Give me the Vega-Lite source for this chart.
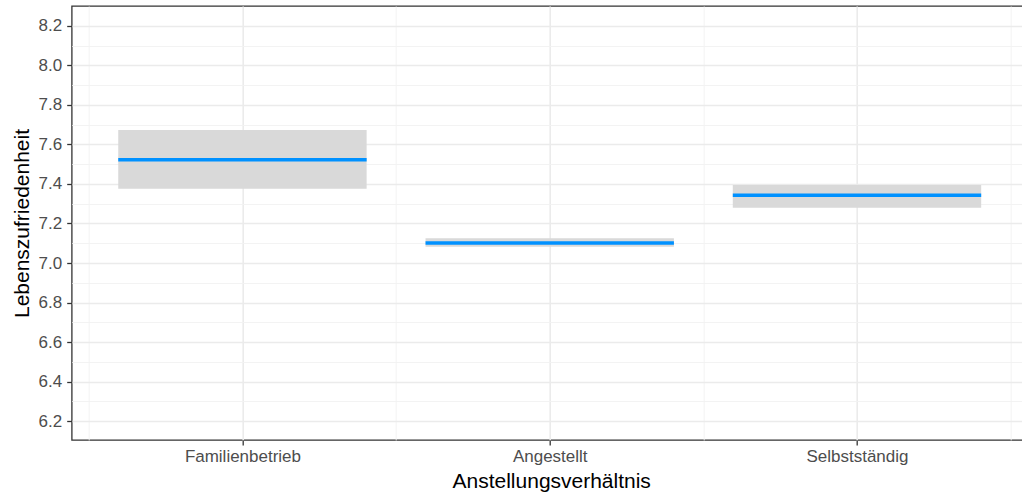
{
  "$schema": "https://vega.github.io/schema/vega-lite/v6.json",
  "width": 959,
  "height": 434,
  "padding": {"left": 10.7, "top": 6, "right": 0, "bottom": 0},
  "background": "white",
  "config": {
    "view": {"stroke": "#333333", "strokeWidth": 1.3, "fill": "white"},
    "font": "Liberation Sans"
  },
  "data": {
    "values": [
      {"group": "Familienbetrieb", "idx": 1, "mean": 7.523, "lower": 7.376, "upper": 7.673},
      {"group": "Angestellt", "idx": 2, "mean": 7.101, "lower": 7.082, "upper": 7.125},
      {"group": "Selbstständig", "idx": 3, "mean": 7.343, "lower": 7.280, "upper": 7.395}
    ]
  },
  "encoding": {
    "x": {
      "field": "idx",
      "type": "quantitative",
      "scale": {"domain": [0.4606, 3.549], "nice": false, "zero": false},
      "axis": {
        "title": "Anstellungsverhältnis",
        "titleFontSize": 21,
        "titleFontWeight": "normal",
        "titleColor": "black",
        "titlePadding": 6,
        "values": [0.5, 1, 1.5, 2, 2.5, 3, 3.5],
        "labelExpr": "datum.value == 1 ? 'Familienbetrieb' : datum.value == 2 ? 'Angestellt' : datum.value == 3 ? 'Selbstständig' : ''",
        "labelFontSize": 17,
        "labelColor": "#4D4D4D",
        "labelPadding": 4,
        "labelFlush": false,
        "labelOverlap": false,
        "domain": false,
        "tickSize": 5,
        "tickColor": "#333333",
        "tickWidth": 1.3,
        "tickOpacity": {"condition": {"test": "datum.value % 1 === 0", "value": 1}, "value": 0},
        "grid": true,
        "gridColor": {"condition": {"test": "datum.value % 1 === 0", "value": "#EBEBEB"}, "value": "#F2F2F2"},
        "gridWidth": {"condition": {"test": "datum.value % 1 === 0", "value": 1.6}, "value": 0.9}
      }
    },
    "y": {
      "field": "mean",
      "type": "quantitative",
      "scale": {"domain": [6.104, 8.301], "nice": false, "zero": false},
      "axis": {
        "title": "Lebenszufriedenheit",
        "titleFontSize": 21,
        "titleFontWeight": "normal",
        "titleColor": "black",
        "titlePadding": 6,
        "values": [6.2, 6.3, 6.4, 6.5, 6.6, 6.7, 6.8, 6.9, 7.0, 7.1, 7.2, 7.3, 7.4, 7.5, 7.6, 7.7, 7.8, 7.9, 8.0, 8.1, 8.2],
        "labelExpr": "round(datum.value * 10) % 2 === 0 ? format(datum.value, '.1f') : ''",
        "labelFontSize": 17,
        "labelColor": "#4D4D4D",
        "labelPadding": 5,
        "labelFlush": false,
        "labelOverlap": false,
        "domain": false,
        "tickSize": 5,
        "tickColor": "#333333",
        "tickWidth": 1.3,
        "tickOpacity": {"condition": {"test": "round(datum.value * 10) % 2 === 0", "value": 1}, "value": 0},
        "grid": true,
        "gridColor": {"condition": {"test": "round(datum.value * 10) % 2 === 0", "value": "#EBEBEB"}, "value": "#F2F2F2"},
        "gridWidth": {"condition": {"test": "round(datum.value * 10) % 2 === 0", "value": 1.6}, "value": 0.9}
      }
    }
  },
  "layer": [
    {
      "mark": {"type": "bar", "color": "#D9D9D9", "width": 248.4, "orient": "vertical"},
      "encoding": {
        "y": {"field": "lower", "type": "quantitative"},
        "y2": {"field": "upper"}
      }
    },
    {
      "mark": {"type": "tick", "color": "#0091FF", "orient": "horizontal", "size": 248.4, "thickness": 3.6, "opacity": 1}
    }
  ]
}
